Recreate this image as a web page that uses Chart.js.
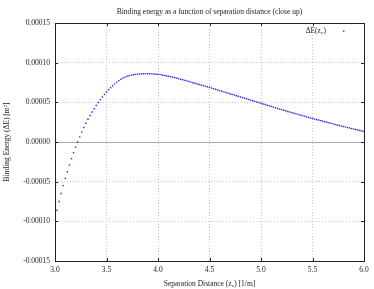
<!DOCTYPE html>
<html>
<head>
<meta charset="utf-8">
<script src="https://cdn.jsdelivr.net/npm/chart.js@4/dist/chart.umd.min.js"></script>
<style>
  html, body { margin: 0; padding: 0; background: #fff; }
  #wrap { width: 374px; height: 289px; }
</style>
</head>
<body>
<div id="wrap"><canvas id="energyChart" width="374" height="289"></canvas></div>
<script>
// ===== data =====
const distance = [
  3.00, 3.02, 3.04, 3.06, 3.08, 3.10, 3.12, 3.14, 3.16, 3.18,
  3.20, 3.22, 3.24, 3.26, 3.28, 3.30, 3.32, 3.34, 3.36, 3.38,
  3.40, 3.42, 3.44, 3.46, 3.48, 3.50, 3.52, 3.54, 3.56, 3.58,
  3.60, 3.62, 3.64, 3.66, 3.68, 3.70, 3.72, 3.74, 3.76, 3.78,
  3.80, 3.82, 3.84, 3.86, 3.88, 3.90, 3.92, 3.94, 3.96, 3.98,
  4.00, 4.02, 4.04, 4.06, 4.08, 4.10, 4.12, 4.14, 4.16, 4.18,
  4.20, 4.22, 4.24, 4.26, 4.28, 4.30, 4.32, 4.34, 4.36, 4.38,
  4.40, 4.42, 4.44, 4.46, 4.48, 4.50, 4.52, 4.54, 4.56, 4.58,
  4.60, 4.62, 4.64, 4.66, 4.68, 4.70, 4.72, 4.74, 4.76, 4.78,
  4.80, 4.82, 4.84, 4.86, 4.88, 4.90, 4.92, 4.94, 4.96, 4.98,
  5.00, 5.02, 5.04, 5.06, 5.08, 5.10, 5.12, 5.14, 5.16, 5.18,
  5.20, 5.22, 5.24, 5.26, 5.28, 5.30, 5.32, 5.34, 5.36, 5.38,
  5.40, 5.42, 5.44, 5.46, 5.48, 5.50, 5.52, 5.54, 5.56, 5.58,
  5.60, 5.62, 5.64, 5.66, 5.68, 5.70, 5.72, 5.74, 5.76, 5.78,
  5.80, 5.82, 5.84, 5.86, 5.88, 5.90, 5.92, 5.94, 5.96, 5.98,
  6.00
];

// binding energy, in units of 1e-5
const energyE5 = [
  -9.80, -8.60, -7.50, -6.50, -5.50, -4.60, -3.75, -2.90, -2.10, -1.35,
  -0.65,  0.00,  0.65,  1.25,  1.82,  2.36,  2.86,  3.33,  3.78,  4.20,
   4.60,  4.98,  5.34,  5.68,  6.00,  6.30,  6.58,  6.85,  7.10,  7.33,
   7.55,  7.74,  7.91,  8.06,  8.18,  8.28,  8.36,  8.43,  8.48,  8.52,
   8.55,  8.57,  8.59,  8.60,  8.61,  8.61,  8.60,  8.59,  8.57,  8.55,
   8.53,  8.49,  8.45,  8.40,  8.35,  8.30,  8.24,  8.18,  8.11,  8.05,
   7.98,  7.91,  7.84,  7.77,  7.70,  7.62,  7.55,  7.47,  7.40,  7.32,
   7.25,  7.18,  7.10,  7.03,  6.95,  6.88,  6.80,  6.72,  6.64,  6.56,
   6.48,  6.40,  6.32,  6.24,  6.16,  6.08,  6.00,  5.92,  5.84,  5.76,
   5.68,  5.60,  5.52,  5.44,  5.36,  5.28,  5.20,  5.12,  5.04,  4.96,
   4.88,  4.80,  4.72,  4.64,  4.56,  4.48,  4.40,  4.32,  4.24,  4.16,
   4.08,  4.00,  3.93,  3.85,  3.78,  3.70,  3.63,  3.55,  3.48,  3.40,
   3.33,  3.26,  3.18,  3.11,  3.03,  2.96,  2.89,  2.83,  2.76,  2.69,
   2.62,  2.55,  2.48,  2.42,  2.35,  2.28,  2.21,  2.15,  2.08,  2.02,
   1.95,  1.89,  1.82,  1.76,  1.69,  1.63,  1.57,  1.51,  1.44,  1.38,
   1.32
];

const xTicks = [3.0, 3.5, 4.0, 4.5, 5.0, 5.5, 6.0];
const yTicks = [-0.00015, -0.0001, -0.00005, 0, 0.00005, 0.0001, 0.00015];

const points = distance.map((d, i) => ({ x: d, y: energyE5[i] * 1e-5 }));

const SERIF = '"Liberation Serif", "DejaVu Serif", serif';
const DOT = 'rgb(40,40,240)';

// gnuplot-ish frame, zero axis, inward ticks and key
const framePlugin = {
  id: 'frame',
  beforeDatasetsDraw(chart) {
    const { ctx, chartArea: a, scales } = chart;
    const y0 = Math.round(scales.y.getPixelForValue(0)) + 0.5;
    ctx.save();
    ctx.strokeStyle = '#a8a8a8';
    ctx.lineWidth = 1;
    ctx.beginPath();
    ctx.moveTo(a.left, y0);
    ctx.lineTo(a.right, y0);
    ctx.stroke();
    ctx.restore();
  },
  afterDraw(chart) {
    const { ctx, chartArea: a, scales } = chart;
    ctx.save();
    ctx.strokeStyle = '#222';
    ctx.lineWidth = 1;
    ctx.beginPath();
    xTicks.forEach(v => {
      const px = Math.round(scales.x.getPixelForValue(v)) + 0.5;
      ctx.moveTo(px, a.bottom); ctx.lineTo(px, a.bottom - 3);
      ctx.moveTo(px, a.top); ctx.lineTo(px, a.top + 3);
    });
    yTicks.forEach(v => {
      const py = Math.round(scales.y.getPixelForValue(v)) + 0.5;
      ctx.moveTo(a.left, py); ctx.lineTo(a.left + 3, py);
      ctx.moveTo(a.right, py); ctx.lineTo(a.right - 3, py);
    });
    ctx.stroke();
    ctx.strokeRect(Math.round(a.left) + 0.5, Math.round(a.top) + 0.5,
                   Math.round(a.right - a.left), Math.round(a.bottom - a.top));

    // key
    ctx.fillStyle = '#222';
    ctx.font = '7.5px ' + SERIF;
    ctx.textAlign = 'right';
    ctx.textBaseline = 'middle';
    ctx.fillText('\u0394E(z\u2080)', a.right - 38, a.top + 8);
    ctx.fillStyle = DOT;
    ctx.fillRect(a.right - 21, a.top + 7.5, 1.4, 1.4);
    ctx.restore();
  }
};

const energyCtx = document.getElementById('energyChart').getContext('2d');
const energyChart = new Chart(energyCtx, {
  type: 'scatter',
  data: {
    datasets: [{
      label: '\u0394E(z\u2080)',
      data: points,
      showLine: false,
      pointStyle: 'rect',
      pointRadius: 1,
      pointBorderWidth: 0,
      pointBackgroundColor: DOT,
      pointBorderColor: DOT
    }]
  },
  options: {
    responsive: false,
    animation: false,
    devicePixelRatio: 1,
    layout: { padding: { left: 0, right: 10, top: 0, bottom: 0 } },
    plugins: {
      legend: { display: false },
      tooltip: { enabled: false },
      title: {
        display: true,
        fullSize: false,
        text: 'Binding energy as a function of separation distance (close up)',
        color: '#222',
        font: { family: SERIF, size: 7.5, weight: 'normal', lineHeight: 1.2 },
        padding: { top: 8, bottom: 6 }
      }
    },
    scales: {
      x: {
        type: 'linear',
        min: 3.0,
        max: 6.0,
        afterBuildTicks(scale) { scale.ticks = xTicks.map(v => ({ value: v })); },
        afterFit(scale) { scale.height = 28; },
        grid: { color: '#c8c8c8', lineWidth: 1, drawTicks: false },
        border: { display: false, dash: [1, 2] },
        ticks: {
          color: '#222',
          padding: 5,
          maxRotation: 0,
          font: { family: SERIF, size: 7.5 },
          callback: v => Number(v).toFixed(1)
        },
        title: {
          display: true,
          text: 'Separation Distance (z\u2080) [1/m]',
          color: '#222',
          font: { family: SERIF, size: 7.5 },
          padding: { top: 3, bottom: 0 }
        }
      },
      y: {
        type: 'linear',
        min: -0.00015,
        max: 0.00015,
        afterBuildTicks(scale) { scale.ticks = yTicks.map(v => ({ value: v })); },
        afterFit(scale) { scale.width = 55; },
        grid: { color: '#c8c8c8', lineWidth: 1, drawTicks: false },
        border: { display: false, dash: [1, 2] },
        ticks: {
          color: '#222',
          padding: 5,
          font: { family: SERIF, size: 7.5 },
          callback: v => Number(v).toFixed(5)
        },
        title: {
          display: true,
          text: 'Binding Energy (\u0394E) [m\u00b2]',
          color: '#222',
          font: { family: SERIF, size: 7.5 },
          padding: { top: 3, bottom: 0 }
        }
      }
    }
  },
  plugins: [framePlugin]
});
</script>
</body>
</html>
